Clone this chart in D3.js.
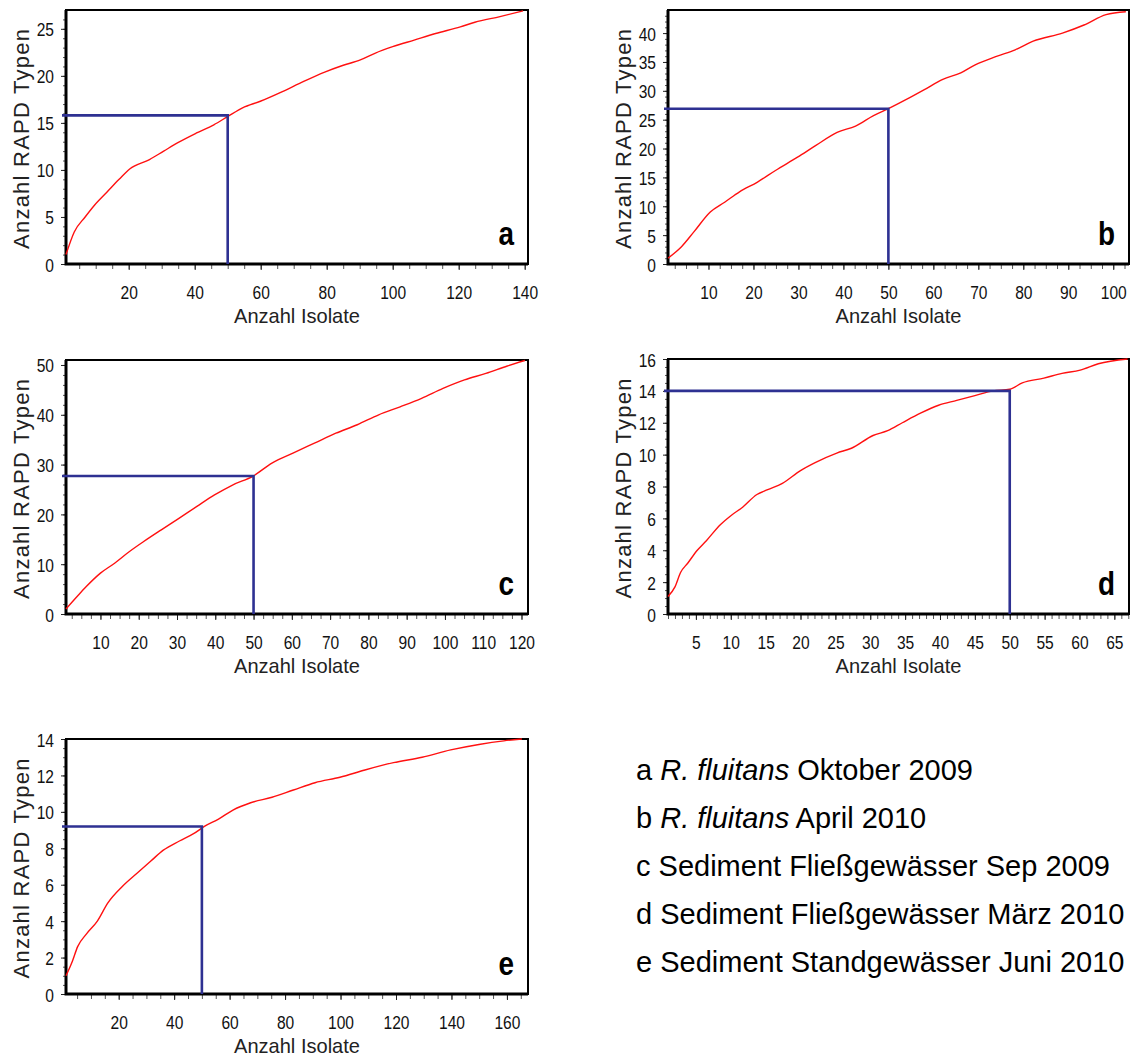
<!DOCTYPE html>
<html>
<head>
<meta charset="utf-8">
<script src="https://cdn.jsdelivr.net/npm/d3@7"></script>
<style>
  body { margin: 0; background: #fff; }
  svg text { font-family: "Liberation Sans", Arial, sans-serif; fill: #111; }
  .tick text { font-size: 19px; }
  .tick line { stroke: #222; }
  .minor .tick line { stroke: #555; }
</style>
</head>
<body>
<svg id="chart"></svg>
<script>
// rarefaction curves
var isolatesA = [1, 3.5, 6.8, 9.5, 13.3, 17.1, 20.3, 26.3, 30.6, 34.9, 40.4, 45.8, 50.1, 54.5, 59.9, 66.4, 71.8, 79.4, 84.8, 90.2, 94.6, 100, 106.5, 113, 120.5, 124.9, 132.5, 139.5];
var typesA    = [1, 3.4, 5.0, 6.2, 7.6, 9.0, 10.1, 11.1, 12.0, 12.9, 13.9, 14.8, 15.7, 16.6, 17.3, 18.3, 19.2, 20.4, 21.1, 21.7, 22.4, 23.1, 23.8, 24.5, 25.2, 25.7, 26.3, 26.9];

var isolatesB = [1, 4.0, 6.8, 10.4, 13.6, 16.9, 20.9, 24.9, 29.8, 33.8, 38.6, 42.7, 46.7, 50, 54, 58, 62.1, 66.1, 69.3, 74.2, 78.2, 82.2, 88.7, 93.5, 98.4, 102.8];
var typesB    = [1, 3.0, 5.6, 9.0, 10.7, 12.5, 14.2, 16.2, 18.5, 20.5, 22.8, 23.9, 25.7, 26.9, 28.5, 30.2, 32.0, 33.1, 34.5, 36.0, 37.1, 38.6, 40.0, 41.4, 43.2, 43.7];

var isolatesC = [1, 3.9, 6.3, 10, 13.7, 17.5, 21.2, 25.9, 30.5, 35.2, 39.8, 44.5, 49.9, 54.8, 60.3, 65.9, 71.5, 77.1, 82.7, 88.3, 93.9, 99.5, 105.1, 110.7, 116.3, 120.9];
var typesC    = [1, 3.5, 5.5, 8.2, 10.2, 12.5, 14.5, 16.9, 19.2, 21.6, 23.9, 25.9, 27.7, 30.3, 32.3, 34.3, 36.3, 38.0, 40.0, 41.6, 43.3, 45.3, 47.0, 48.3, 49.8, 50.9];

var isolatesD = [1, 2.0, 2.8, 3.85, 5.2, 6.5, 8.5, 10.1, 11.7, 13.75, 15.3, 17.4, 20, 22.1, 25.2, 27.3, 30.4, 32.5, 34.6, 37.2, 39.8, 42.4, 45, 47.6, 50, 51.8, 54.9, 57.5, 60.1, 62.7, 66.9];
var typesD    = [1.1, 1.7, 2.6, 3.2, 4.0, 4.6, 5.6, 6.2, 6.7, 7.5, 7.8, 8.2, 9.0, 9.5, 10.1, 10.4, 11.2, 11.5, 12.0, 12.6, 13.1, 13.4, 13.7, 14.0, 14.1, 14.5, 14.8, 15.1, 15.3, 15.7, 16.0];

var isolatesE = [1, 3.3, 5.2, 8.4, 12.3, 16.1, 21.3, 26.4, 31.6, 36.1, 41.9, 47, 50.9, 56, 61.2, 67.6, 75.3, 83, 90.8, 99.8, 108.8, 119.1, 129.4, 139.7, 149.9, 158.9, 165.4];
var typesE    = [1, 1.8, 2.6, 3.3, 4.0, 5.0, 5.9, 6.6, 7.3, 7.9, 8.4, 8.8, 9.2, 9.6, 10.1, 10.5, 10.8, 11.2, 11.6, 11.9, 12.3, 12.7, 13.0, 13.4, 13.7, 13.9, 14.0];

// tick labels
var xTicksA = [20, 40, 60, 80, 100, 120, 140];
var yTicksA = [0, 5, 10, 15, 20, 25];
var xTicksB = [10, 20, 30, 40, 50, 60, 70, 80, 90, 100];
var yTicksB = [0, 5, 10, 15, 20, 25, 30, 35, 40];
var xTicksC = [10, 20, 30, 40, 50, 60, 70, 80, 90, 100, 110, 120];
var yTicksC = [0, 10, 20, 30, 40, 50];
var xTicksD = [5, 10, 15, 20, 25, 30, 35, 40, 45, 50, 55, 60, 65];
var yTicksD = [0, 2, 4, 6, 8, 10, 12, 14, 16];
var xTicksE = [20, 40, 60, 80, 100, 120, 140, 160];
var yTicksE = [0, 2, 4, 6, 8, 10, 12, 14];

// RAPD types found at 50 isolates (blue marker lines)
var markIsolates = 50;
var markTypes = [15.8, 26.9, 27.7, 14.0, 9.2];

var panelLetters = ["a", "b", "c", "d", "e"];
var legendSpecies = ["R. fluitans", "R. fluitans", "", "", ""];
var legendDetail = ["Oktober 2009", "April 2010", "Sediment Fließgewässer Sep 2009",
                    "Sediment Fließgewässer März 2010", "Sediment Standgewässer Juni 2010"];

var X_TITLE = "Anzahl Isolate",
    Y_TITLE = "Anzahl RAPD Typen";

var width = 1132,
    height = 1059;

var svg = d3.select("#chart")
    .attr("width", width)
    .attr("height", height);

// panel setup (boxes + axis extents)
var panels = [
  {xs: isolatesA, ys: typesA, xt: xTicksA, yt: yTicksA, xd: [1, 141], yd: [0, 27], xMinor: 5, yMinor: 1,
   box: {left: 66, top: 10, right: 528, bottom: 264}},
  {xs: isolatesB, ys: typesB, xt: xTicksB, yt: yTicksB, xd: [1, 103.5], yd: [0, 44], xMinor: 2.5, yMinor: 1,
   box: {left: 668, top: 10, right: 1129, bottom: 264}},
  {xs: isolatesC, ys: typesC, xt: xTicksC, yt: yTicksC, xd: [1, 121.7], yd: [0, 51], xMinor: 2.5, yMinor: 2,
   box: {left: 66, top: 360, right: 528, bottom: 614}},
  {xs: isolatesD, ys: typesD, xt: xTicksD, yt: yTicksD, xd: [1, 67.1], yd: [0, 16], xMinor: 1, yMinor: 0.5,
   box: {left: 668, top: 359, right: 1129, bottom: 614}},
  {xs: isolatesE, ys: typesE, xt: xTicksE, yt: yTicksE, xd: [1, 167.6], yd: [0, 14], xMinor: 5, yMinor: 0.5,
   box: {left: 66, top: 739, right: 528, bottom: 994}}
];

// narrow, tall digits like the original bitmap font
function squeezeX(sel) {
    sel.selectAll(".tick text")
        .attr("y", 0).attr("dy", null)
        .attr("transform", "translate(0,35) scale(0.82,1)");
}
function squeezeY(sel) {
    sel.selectAll(".tick text")
        .attr("x", 0).attr("dy", null)
        .attr("transform", "translate(-12,7) scale(0.82,1)");
}

panels.forEach(function(p, i) {
    var b = p.box;
    var g = svg.append("g").attr("class", "panel");

    var x = d3.scaleLinear().domain(p.xd).range([b.left, b.right]);
    var y = d3.scaleLinear().domain(p.yd).range([b.bottom, b.top]);

    // minor ticks
    g.append("g")
        .attr("class", "minor")
        .attr("transform", "translate(0," + b.bottom + ")")
        .call(d3.axisBottom(x)
            .tickValues(d3.range(Math.ceil(p.xd[0] / p.xMinor) * p.xMinor, p.xd[1], p.xMinor))
            .tickSize(5).tickFormat(""))
        .call(function(a) { a.select(".domain").remove(); });
    g.append("g")
        .attr("class", "minor")
        .attr("transform", "translate(" + b.left + ",0)")
        .call(d3.axisLeft(y)
            .tickValues(d3.range(p.yd[0], p.yd[1], p.yMinor))
            .tickSize(3).tickFormat(""))
        .call(function(a) { a.select(".domain").remove(); });

    // labelled ticks
    g.append("g")
        .attr("transform", "translate(0," + b.bottom + ")")
        .call(d3.axisBottom(x).tickValues(p.xt).tickSize(6))
        .call(function(a) { a.select(".domain").remove(); })
        .call(squeezeX);
    g.append("g")
        .attr("transform", "translate(" + b.left + ",0)")
        .call(d3.axisLeft(y).tickValues(p.yt).tickSize(5))
        .call(function(a) { a.select(".domain").remove(); })
        .call(squeezeY);

    // frame: thin top/right, heavy left/bottom
    g.append("rect")
        .attr("x", b.left).attr("y", b.top)
        .attr("width", b.right - b.left).attr("height", b.bottom - b.top)
        .attr("fill", "none").attr("stroke", "#000").attr("stroke-width", 2);
    g.append("path")
        .attr("d", "M" + b.left + "," + b.top + "V" + b.bottom + "H" + b.right)
        .attr("fill", "none").attr("stroke", "#000").attr("stroke-width", 3);

    // curve
    var line = d3.line()
        .x(function(d) { return x(d[0]); })
        .y(function(d) { return y(d[1]); })
        .curve(d3.curveMonotoneX);
    g.append("path")
        .datum(d3.zip(p.xs, p.ys))
        .attr("d", line)
        .attr("fill", "none")
        .attr("stroke", "#ff1010")
        .attr("stroke-width", 1.4);

    // 50 isolates marker
    g.append("path")
        .attr("d", "M" + (b.left - 4) + "," + y(markTypes[i]) +
                   "H" + x(markIsolates) + "V" + y(0))
        .attr("fill", "none")
        .attr("stroke", "#2e3192")
        .attr("stroke-width", 2.6);

    // panel letter
    g.append("g")
        .attr("transform", "translate(" + (b.right - 14) + "," + (b.bottom - 19) + ") scale(0.82,1)")
      .append("text")
        .attr("text-anchor", "end")
        .style("font-size", "34px")
        .style("font-weight", "bold")
        .style("fill", "#000")
        .text(panelLetters[i]);

    // axis titles
    g.append("text")
        .attr("x", (b.left + b.right) / 2)
        .attr("y", b.bottom + 59)
        .attr("text-anchor", "middle")
        .attr("textLength", 126)
        .attr("lengthAdjust", "spacingAndGlyphs")
        .style("font-size", "21px")
        .style("fill", "#222")
        .text(X_TITLE);
    g.append("text")
        .attr("transform", "translate(" + (b.left - 37) + "," + ((b.top + b.bottom) / 2 + 2) + ") rotate(-90)")
        .attr("text-anchor", "middle")
        .attr("textLength", 220)
        .style("font-size", "22px")
        .style("fill", "#222")
        .text(Y_TITLE);
});

// legend
var legend = svg.append("g")
    .attr("transform", "translate(636,0)");
legendDetail.forEach(function(d, i) {
    var t = legend.append("text")
        .attr("x", 0)
        .attr("y", 780 + i * 48)
        .style("font-size", "29px")
        .style("fill", "#000");
    t.append("tspan").text(panelLetters[i] + " ");
    if (legendSpecies[i]) {
        t.append("tspan").style("font-style", "italic").text(legendSpecies[i]);
        t.append("tspan").text(" " + d);
    } else {
        t.append("tspan").text(d);
    }
});
</script>
</body>
</html>
